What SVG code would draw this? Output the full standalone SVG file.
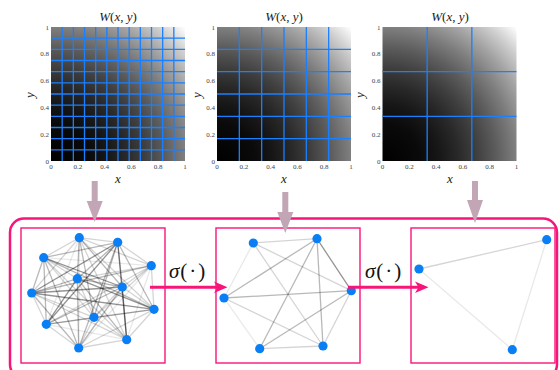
<svg xmlns="http://www.w3.org/2000/svg" width="560" height="370" viewBox="0 0 560 370">
<defs>
<radialGradient id="w" cx="0" cy="1" r="1.4142" fx="0" fy="1">
<stop offset="0" stop-color="#000"/>
<stop offset="0.2" stop-color="#0a0a0a"/>
<stop offset="0.3" stop-color="#171717"/>
<stop offset="0.4" stop-color="#292929"/>
<stop offset="0.5" stop-color="#404040"/>
<stop offset="0.6" stop-color="#5c5c5c"/>
<stop offset="0.7" stop-color="#7d7d7d"/>
<stop offset="0.8" stop-color="#a3a3a3"/>
<stop offset="0.9" stop-color="#cecece"/>
<stop offset="1" stop-color="#fff"/>
</radialGradient>
</defs>
<style>
.tk{font-family:"Liberation Serif","DejaVu Serif",serif;font-size:7px;fill:#444}
.tl{text-anchor:end}
.tc{text-anchor:middle}
.ttl{font-family:"Liberation Serif","DejaVu Serif",serif;font-size:13px;fill:#222;text-anchor:middle}
.ax{font-family:"Liberation Serif","DejaVu Serif",serif;font-size:13px;font-style:italic;fill:#222;text-anchor:middle}
.it{font-style:italic}
.grid{stroke:#1a80ff;stroke-width:1.3;fill:none}
.nd{fill:#0a7ff5}
.dk{stroke:#000;stroke-opacity:0.42;stroke-width:1.3}
.md{stroke:#000;stroke-opacity:0.28;stroke-width:1.3}
.lt{stroke:#000;stroke-opacity:0.17;stroke-width:1.3}
.fa{stroke:#000;stroke-opacity:0.09;stroke-width:1.3}
.panel{fill:none;stroke:#f7157a;stroke-width:1.4}
.outer{fill:none;stroke:#f7157a;stroke-width:2.5}
.mv{fill:#c2a6b6}
.pk{stroke:#f7157a;stroke-width:3;fill:none}
.pkh{fill:#f7157a}
.sig{font-family:"Liberation Serif","DejaVu Serif",serif;font-size:21px;fill:#111}
</style>

<!-- Heatmap 1 -->
<g id="heatmap1">
<text class="ttl" x="118" y="21"><tspan class="it">W</tspan>(<tspan class="it">x</tspan>, <tspan class="it">y</tspan>)</text>
<rect x="51" y="27" width="134" height="134" fill="url(#w)"/>
<path class="grid" d="M62.17,27V161M73.33,27V161M84.5,27V161M95.67,27V161M106.83,27V161M118,27V161M129.17,27V161M140.33,27V161M151.5,27V161M162.67,27V161M173.83,27V161M51,38.17H185M51,49.33H185M51,60.5H185M51,71.67H185M51,82.83H185M51,94H185M51,105.17H185M51,116.33H185M51,127.5H185M51,138.67H185M51,149.83H185"/>
<g class="tk tl"><text x="49" y="163.5">0</text><text x="49" y="136.7">0.2</text><text x="49" y="109.9">0.4</text><text x="49" y="83.1">0.6</text><text x="49" y="56.3">0.8</text><text x="49" y="29.5">1</text></g>
<g class="tk tc"><text x="51" y="169">0</text><text x="77.8" y="169">0.2</text><text x="104.6" y="169">0.4</text><text x="131.4" y="169">0.6</text><text x="158.2" y="169">0.8</text><text x="185" y="169">1</text></g>
<text class="ax" x="118" y="183">x</text>
<text class="ax" x="34" y="95" transform="rotate(-90 34 95)">y</text>
</g>

<!-- Heatmap 2 -->
<g id="heatmap2">
<text class="ttl" x="284" y="21"><tspan class="it">W</tspan>(<tspan class="it">x</tspan>, <tspan class="it">y</tspan>)</text>
<rect x="217" y="27" width="134" height="134" fill="url(#w)"/>
<path class="grid" d="M239.33,27V161M261.67,27V161M284,27V161M306.33,27V161M328.67,27V161M217,49.33H351M217,71.67H351M217,94H351M217,116.33H351M217,138.67H351"/>
<g class="tk tl"><text x="215" y="163.5">0</text><text x="215" y="136.7">0.2</text><text x="215" y="109.9">0.4</text><text x="215" y="83.1">0.6</text><text x="215" y="56.3">0.8</text><text x="215" y="29.5">1</text></g>
<g class="tk tc"><text x="217" y="169">0</text><text x="243.8" y="169">0.2</text><text x="270.6" y="169">0.4</text><text x="297.4" y="169">0.6</text><text x="324.2" y="169">0.8</text><text x="351" y="169">1</text></g>
<text class="ax" x="284" y="183">x</text>
<text class="ax" x="201" y="95" transform="rotate(-90 201 95)">y</text>
</g>

<!-- Heatmap 3 -->
<g id="heatmap3">
<text class="ttl" x="450" y="21"><tspan class="it">W</tspan>(<tspan class="it">x</tspan>, <tspan class="it">y</tspan>)</text>
<rect x="382.5" y="27" width="134" height="134" fill="url(#w)"/>
<path class="grid" d="M427.17,27V161M471.83,27V161M382.5,71.67H516.5M382.5,116.33H516.5"/>
<g class="tk tl"><text x="380.5" y="163.5">0</text><text x="380.5" y="136.7">0.2</text><text x="380.5" y="109.9">0.4</text><text x="380.5" y="83.1">0.6</text><text x="380.5" y="56.3">0.8</text><text x="380.5" y="29.5">1</text></g>
<g class="tk tc"><text x="382.5" y="169">0</text><text x="409.3" y="169">0.2</text><text x="436.1" y="169">0.4</text><text x="462.9" y="169">0.6</text><text x="489.7" y="169">0.8</text><text x="516.5" y="169">1</text></g>
<text class="ax" x="450" y="183">x</text>
<text class="ax" x="364" y="95" transform="rotate(-90 364 95)">y</text>
</g>

<!-- Outer frame -->
<g id="frame">
<rect class="outer" x="10" y="218.5" width="547" height="160" rx="14" ry="14"/>
</g>

<!-- Graph panel 1 -->
<g id="graph1">
<rect class="panel" x="21" y="228" width="144" height="135"/>
<g>
<line class="lt" x1="79.3" y1="237.7" x2="117.7" y2="242.3"/>
<line class="lt" x1="79.3" y1="237.7" x2="43.7" y2="257.7"/>
<line class="lt" x1="79.3" y1="237.7" x2="151.3" y2="265.7"/>
<line class="md" x1="79.3" y1="237.7" x2="77.3" y2="278.7"/>
<line class="md" x1="79.3" y1="237.7" x2="122.3" y2="287"/>
<line class="lt" x1="79.3" y1="237.7" x2="31.7" y2="293"/>
<line class="lt" x1="79.3" y1="237.7" x2="154" y2="309.3"/>
<line class="md" x1="79.3" y1="237.7" x2="94" y2="317.3"/>
<line class="fa" x1="79.3" y1="237.7" x2="46.3" y2="324.3"/>
<line class="lt" x1="79.3" y1="237.7" x2="126.7" y2="339.7"/>
<line class="fa" x1="79.3" y1="237.7" x2="78.7" y2="348"/>
<line class="md" x1="117.7" y1="242.3" x2="43.7" y2="257.7"/>
<line class="lt" x1="117.7" y1="242.3" x2="151.3" y2="265.7"/>
<line class="md" x1="117.7" y1="242.3" x2="77.3" y2="278.7"/>
<line class="md" x1="117.7" y1="242.3" x2="122.3" y2="287"/>
<line class="dk" x1="117.7" y1="242.3" x2="31.7" y2="293"/>
<line class="md" x1="117.7" y1="242.3" x2="154" y2="309.3"/>
<line class="md" x1="117.7" y1="242.3" x2="94" y2="317.3"/>
<line class="dk" x1="117.7" y1="242.3" x2="46.3" y2="324.3"/>
<line class="dk" x1="117.7" y1="242.3" x2="126.7" y2="339.7"/>
<line class="md" x1="117.7" y1="242.3" x2="78.7" y2="348"/>
<line class="fa" x1="43.7" y1="257.7" x2="151.3" y2="265.7"/>
<line class="lt" x1="43.7" y1="257.7" x2="77.3" y2="278.7"/>
<line class="dk" x1="43.7" y1="257.7" x2="122.3" y2="287"/>
<line class="md" x1="43.7" y1="257.7" x2="31.7" y2="293"/>
<line class="md" x1="43.7" y1="257.7" x2="154" y2="309.3"/>
<line class="lt" x1="43.7" y1="257.7" x2="94" y2="317.3"/>
<line class="md" x1="43.7" y1="257.7" x2="46.3" y2="324.3"/>
<line class="lt" x1="43.7" y1="257.7" x2="126.7" y2="339.7"/>
<line class="md" x1="43.7" y1="257.7" x2="78.7" y2="348"/>
<line class="lt" x1="151.3" y1="265.7" x2="77.3" y2="278.7"/>
<line class="lt" x1="151.3" y1="265.7" x2="122.3" y2="287"/>
<line class="md" x1="151.3" y1="265.7" x2="31.7" y2="293"/>
<line class="lt" x1="151.3" y1="265.7" x2="154" y2="309.3"/>
<line class="lt" x1="151.3" y1="265.7" x2="94" y2="317.3"/>
<line class="lt" x1="151.3" y1="265.7" x2="46.3" y2="324.3"/>
<line class="fa" x1="151.3" y1="265.7" x2="126.7" y2="339.7"/>
<line class="fa" x1="151.3" y1="265.7" x2="78.7" y2="348"/>
<line class="md" x1="77.3" y1="278.7" x2="122.3" y2="287"/>
<line class="md" x1="77.3" y1="278.7" x2="31.7" y2="293"/>
<line class="dk" x1="77.3" y1="278.7" x2="154" y2="309.3"/>
<line class="lt" x1="77.3" y1="278.7" x2="94" y2="317.3"/>
<line class="dk" x1="77.3" y1="278.7" x2="46.3" y2="324.3"/>
<line class="md" x1="77.3" y1="278.7" x2="126.7" y2="339.7"/>
<line class="md" x1="77.3" y1="278.7" x2="78.7" y2="348"/>
<line class="dk" x1="122.3" y1="287" x2="31.7" y2="293"/>
<line class="lt" x1="122.3" y1="287" x2="154" y2="309.3"/>
<line class="lt" x1="122.3" y1="287" x2="94" y2="317.3"/>
<line class="md" x1="122.3" y1="287" x2="46.3" y2="324.3"/>
<line class="dk" x1="122.3" y1="287" x2="126.7" y2="339.7"/>
<line class="md" x1="122.3" y1="287" x2="78.7" y2="348"/>
<line class="dk" x1="31.7" y1="293" x2="154" y2="309.3"/>
<line class="lt" x1="31.7" y1="293" x2="94" y2="317.3"/>
<line class="lt" x1="31.7" y1="293" x2="46.3" y2="324.3"/>
<line class="lt" x1="31.7" y1="293" x2="126.7" y2="339.7"/>
<line class="md" x1="31.7" y1="293" x2="78.7" y2="348"/>
<line class="lt" x1="154" y1="309.3" x2="94" y2="317.3"/>
<line class="md" x1="154" y1="309.3" x2="46.3" y2="324.3"/>
<line class="lt" x1="154" y1="309.3" x2="126.7" y2="339.7"/>
<line class="lt" x1="154" y1="309.3" x2="78.7" y2="348"/>
<line class="lt" x1="94" y1="317.3" x2="46.3" y2="324.3"/>
<line class="lt" x1="94" y1="317.3" x2="126.7" y2="339.7"/>
<line class="lt" x1="94" y1="317.3" x2="78.7" y2="348"/>
<line class="fa" x1="46.3" y1="324.3" x2="126.7" y2="339.7"/>
<line class="lt" x1="46.3" y1="324.3" x2="78.7" y2="348"/>
<line class="lt" x1="126.7" y1="339.7" x2="78.7" y2="348"/>
</g>
<g class="nd">
<circle cx="79.3" cy="237.7" r="4.6"/>
<circle cx="117.7" cy="242.3" r="4.6"/>
<circle cx="43.7" cy="257.7" r="4.6"/>
<circle cx="151.3" cy="265.7" r="4.6"/>
<circle cx="77.3" cy="278.7" r="4.6"/>
<circle cx="122.3" cy="287" r="4.6"/>
<circle cx="31.7" cy="293" r="4.6"/>
<circle cx="154" cy="309.3" r="4.6"/>
<circle cx="94" cy="317.3" r="4.6"/>
<circle cx="46.3" cy="324.3" r="4.6"/>
<circle cx="126.7" cy="339.7" r="4.6"/>
<circle cx="78.7" cy="348" r="4.6"/>
</g>
</g>

<!-- Graph panel 2 -->
<g id="graph2">
<rect class="panel" x="216" y="228" width="144" height="135"/>
<g>
<line class="lt" x1="253.3" y1="243" x2="317" y2="238.7"/>
<line class="lt" x1="253.3" y1="243" x2="351.3" y2="290.7"/>
<line class="lt" x1="253.3" y1="243" x2="323" y2="346"/>
<line class="fa" x1="253.3" y1="243" x2="224" y2="298"/>
<line class="md" x1="317" y1="238.7" x2="224" y2="298"/>
<line class="md" x1="317" y1="238.7" x2="259.7" y2="348.7"/>
<line class="md" x1="317" y1="238.7" x2="323" y2="346"/>
<line class="dk" x1="317" y1="238.7" x2="351.3" y2="290.7"/>
<line class="md" x1="224" y1="298" x2="351.3" y2="290.7"/>
<line class="lt" x1="224" y1="298" x2="323" y2="346"/>
<line class="fa" x1="224" y1="298" x2="259.7" y2="348.7"/>
<line class="md" x1="351.3" y1="290.7" x2="259.7" y2="348.7"/>
<line class="lt" x1="351.3" y1="290.7" x2="323" y2="346"/>
<line class="lt" x1="259.7" y1="348.7" x2="323" y2="346"/>
</g>
<g class="nd">
<circle cx="253.3" cy="243" r="4.6"/>
<circle cx="317" cy="238.7" r="4.6"/>
<circle cx="351.3" cy="290.7" r="4.6"/>
<circle cx="224" cy="298" r="4.6"/>
<circle cx="259.7" cy="348.7" r="4.6"/>
<circle cx="323" cy="346" r="4.6"/>
</g>
</g>

<!-- Graph panel 3 -->
<g id="graph3">
<rect class="panel" x="411" y="228" width="144" height="135"/>
<g>
<line class="lt" x1="419" y1="269" x2="546.7" y2="239.7"/>
<line class="fa" x1="546.7" y1="239.7" x2="512.3" y2="349.7"/>
<line class="fa" x1="419" y1="269" x2="512.3" y2="349.7" stroke-opacity="0.04"/>
</g>
<g class="nd">
<circle cx="546.7" cy="239.7" r="4.6"/>
<circle cx="419" cy="269" r="4.6"/>
<circle cx="512.3" cy="349.7" r="4.6"/>
</g>
</g>

<!-- Connectors -->
<g id="connectors">
<path class="mv" d="M91.7,181H97.7V201H102.7L94.7,222L86.7,201H91.7Z"/>
<path class="mv" d="M282.3,192H288.3V212H293.3L285.3,233L277.3,212H282.3Z"/>
<path class="mv" d="M472,181H478V200H483L475,223L467,200H472Z"/>
<line class="pk" x1="150" y1="287.3" x2="218" y2="287.3"/>
<path class="pkh" d="M227.5,287.3L214,281.5L217.5,287.3L214,293.1Z"/>
<line class="pk" x1="348" y1="287.3" x2="419" y2="287.3"/>
<path class="pkh" d="M428.5,287.3L415,281.5L418.5,287.3L415,293.1Z"/>
<text class="sig" x="169" y="278"><tspan class="it">σ</tspan><tspan dx="1">(</tspan><tspan dx="2">·</tspan><tspan dx="2">)</tspan></text>
<text class="sig" x="365" y="278"><tspan class="it">σ</tspan><tspan dx="1">(</tspan><tspan dx="2">·</tspan><tspan dx="2">)</tspan></text>
</g>
</svg>
